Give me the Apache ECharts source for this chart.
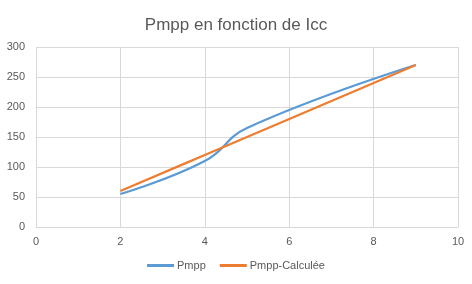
<!DOCTYPE html>
<html><head><meta charset="utf-8">
<script src="https://cdn.jsdelivr.net/npm/echarts@6/dist/echarts.min.js"></script>
<style>html,body{margin:0;padding:0;background:#fff}#c{width:472px;height:284px}</style>
</head><body><div id="c"></div>
<script>
const title = "Pmpp en fonction de Icc";
const icc = [2, 4, 5, 9];
const pmpp = [55, 110, 165, 270];
const pmppCalc = [60, 120, 150, 270];
const seriesNames = ["Pmpp", "Pmpp-Calculée"];

const chart = echarts.init(document.getElementById('c'));
const txt = '#595959';
const font = 'Liberation Sans, Arial, sans-serif';
chart.setOption({
  animation: false,
  backgroundColor: '#fff',
  title: { text: title, left: 'center', top: 12, textStyle: { color: txt, fontSize: 17, fontWeight: 'normal', fontFamily: font } },
  legend: { bottom: 8, left: 'center', icon: 'rect', itemWidth: 27, itemHeight: 3, itemGap: 14,
    textStyle: { color: txt, fontSize: 11, fontFamily: font, padding: [0, 0, 0, -2] }, data: seriesNames },
  grid: { left: 36, right: 14, top: 47, bottom: 57 },
  xAxis: { type: 'value', min: 0, max: 10, interval: 2,
    axisLine: { show: true, lineStyle: { color: '#d9d9d9' } }, axisTick: { show: false },
    splitLine: { show: true, lineStyle: { color: '#d9d9d9' } },
    axisLabel: { color: txt, fontSize: 11, fontFamily: font, margin: 9 } },
  yAxis: { type: 'value', min: 0, max: 300, interval: 50,
    axisLine: { show: false }, axisTick: { show: false },
    splitLine: { show: true, lineStyle: { color: '#d9d9d9' } },
    axisLabel: { color: txt, fontSize: 11, fontFamily: font, margin: 11 } },
  series: [
    { name: seriesNames[0], type: 'line', smooth: 0.45, symbol: 'none',
      lineStyle: { color: '#5b9bd5', width: 2.25 }, itemStyle: { color: '#5b9bd5' },
      data: icc.map((x, i) => [x, pmpp[i]]) },
    { name: seriesNames[1], type: 'line', smooth: 0.45, symbol: 'none',
      lineStyle: { color: '#ed7d31', width: 2.25 }, itemStyle: { color: '#ed7d31' },
      data: icc.map((x, i) => [x, pmppCalc[i]]) }
  ]
});
</script></body></html>
